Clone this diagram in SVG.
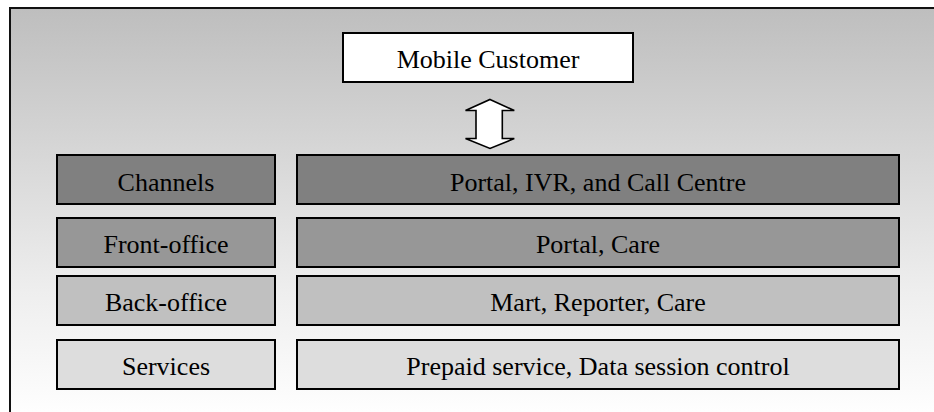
<svg xmlns="http://www.w3.org/2000/svg" width="934" height="412" viewBox="0 0 934 412">
  <defs>
    <linearGradient id="panelFill" x1="0" y1="0" x2="0" y2="1">
      <stop offset="0" stop-color="#bebebe"/>
      <stop offset="0.35" stop-color="#d6d6d6"/>
      <stop offset="0.7" stop-color="#eeeeee"/>
      <stop offset="1" stop-color="#fefefe"/>
    </linearGradient>
    <style>
      .box { stroke: #000; stroke-width: 2; }
      .label { font-family: "Liberation Serif", "Times New Roman", serif; font-size: 26px; fill: #000; text-anchor: middle; }
      .l1 { fill: #808080; }
      .l2 { fill: #979797; }
      .l3 { fill: #c0c0c0; }
      .l4 { fill: #dddddd; }
      .frame { stroke: #111; stroke-width: 2; fill: none; }
    </style>
  </defs>

  <rect width="934" height="412" fill="#ffffff"/>

  <!-- background panel -->
  <rect x="10" y="8" width="924" height="404" fill="url(#panelFill)"/>
  <path class="frame" d="M10,412 V8 H934"/>

  <!-- customer -->
  <g id="mobile-customer">
    <rect class="box" x="343" y="33" width="290" height="49" fill="#ffffff"/>
    <text class="label" x="488" y="68">Mobile Customer</text>
  </g>

  <!-- link between customer and channels -->
  <g id="connectors">
    <polygon points="490,99.5 514.3,110.5 502.3,110.5 502.3,138.5 514.3,138.5 490,148.5 465.5,138.5 476,138.5 476,110.5 465.5,110.5"
             fill="#ffffff" stroke="#000" stroke-width="1.6" stroke-linejoin="miter"/>
  </g>

  <!-- layers: name column -->
  <g id="channels">
    <rect class="box l1" x="57" y="155" width="218" height="49"/>
    <text class="label" x="166" y="191">Channels</text>
  </g>
  <g id="front-office">
    <rect class="box l2" x="57" y="218" width="218" height="49"/>
    <text class="label" x="166" y="253">Front-office</text>
  </g>
  <g id="back-office">
    <rect class="box l3" x="57" y="276" width="218" height="49"/>
    <text class="label" x="166" y="311">Back-office</text>
  </g>
  <g id="services">
    <rect class="box l4" x="57" y="340" width="218" height="49"/>
    <text class="label" x="166" y="375">Services</text>
  </g>

  <!-- layers: content column -->
  <g id="channels-detail">
    <rect class="box l1" x="297" y="155" width="602" height="49"/>
    <text class="label" x="598" y="191">Portal, IVR, and Call Centre</text>
  </g>
  <g id="front-office-detail">
    <rect class="box l2" x="297" y="218" width="602" height="49"/>
    <text class="label" x="598" y="253">Portal, Care</text>
  </g>
  <g id="back-office-detail">
    <rect class="box l3" x="297" y="276" width="602" height="49"/>
    <text class="label" x="598" y="311">Mart, Reporter, Care</text>
  </g>
  <g id="services-detail">
    <rect class="box l4" x="297" y="340" width="602" height="49"/>
    <text class="label" x="598" y="375">Prepaid service, Data session control</text>
  </g>
</svg>
